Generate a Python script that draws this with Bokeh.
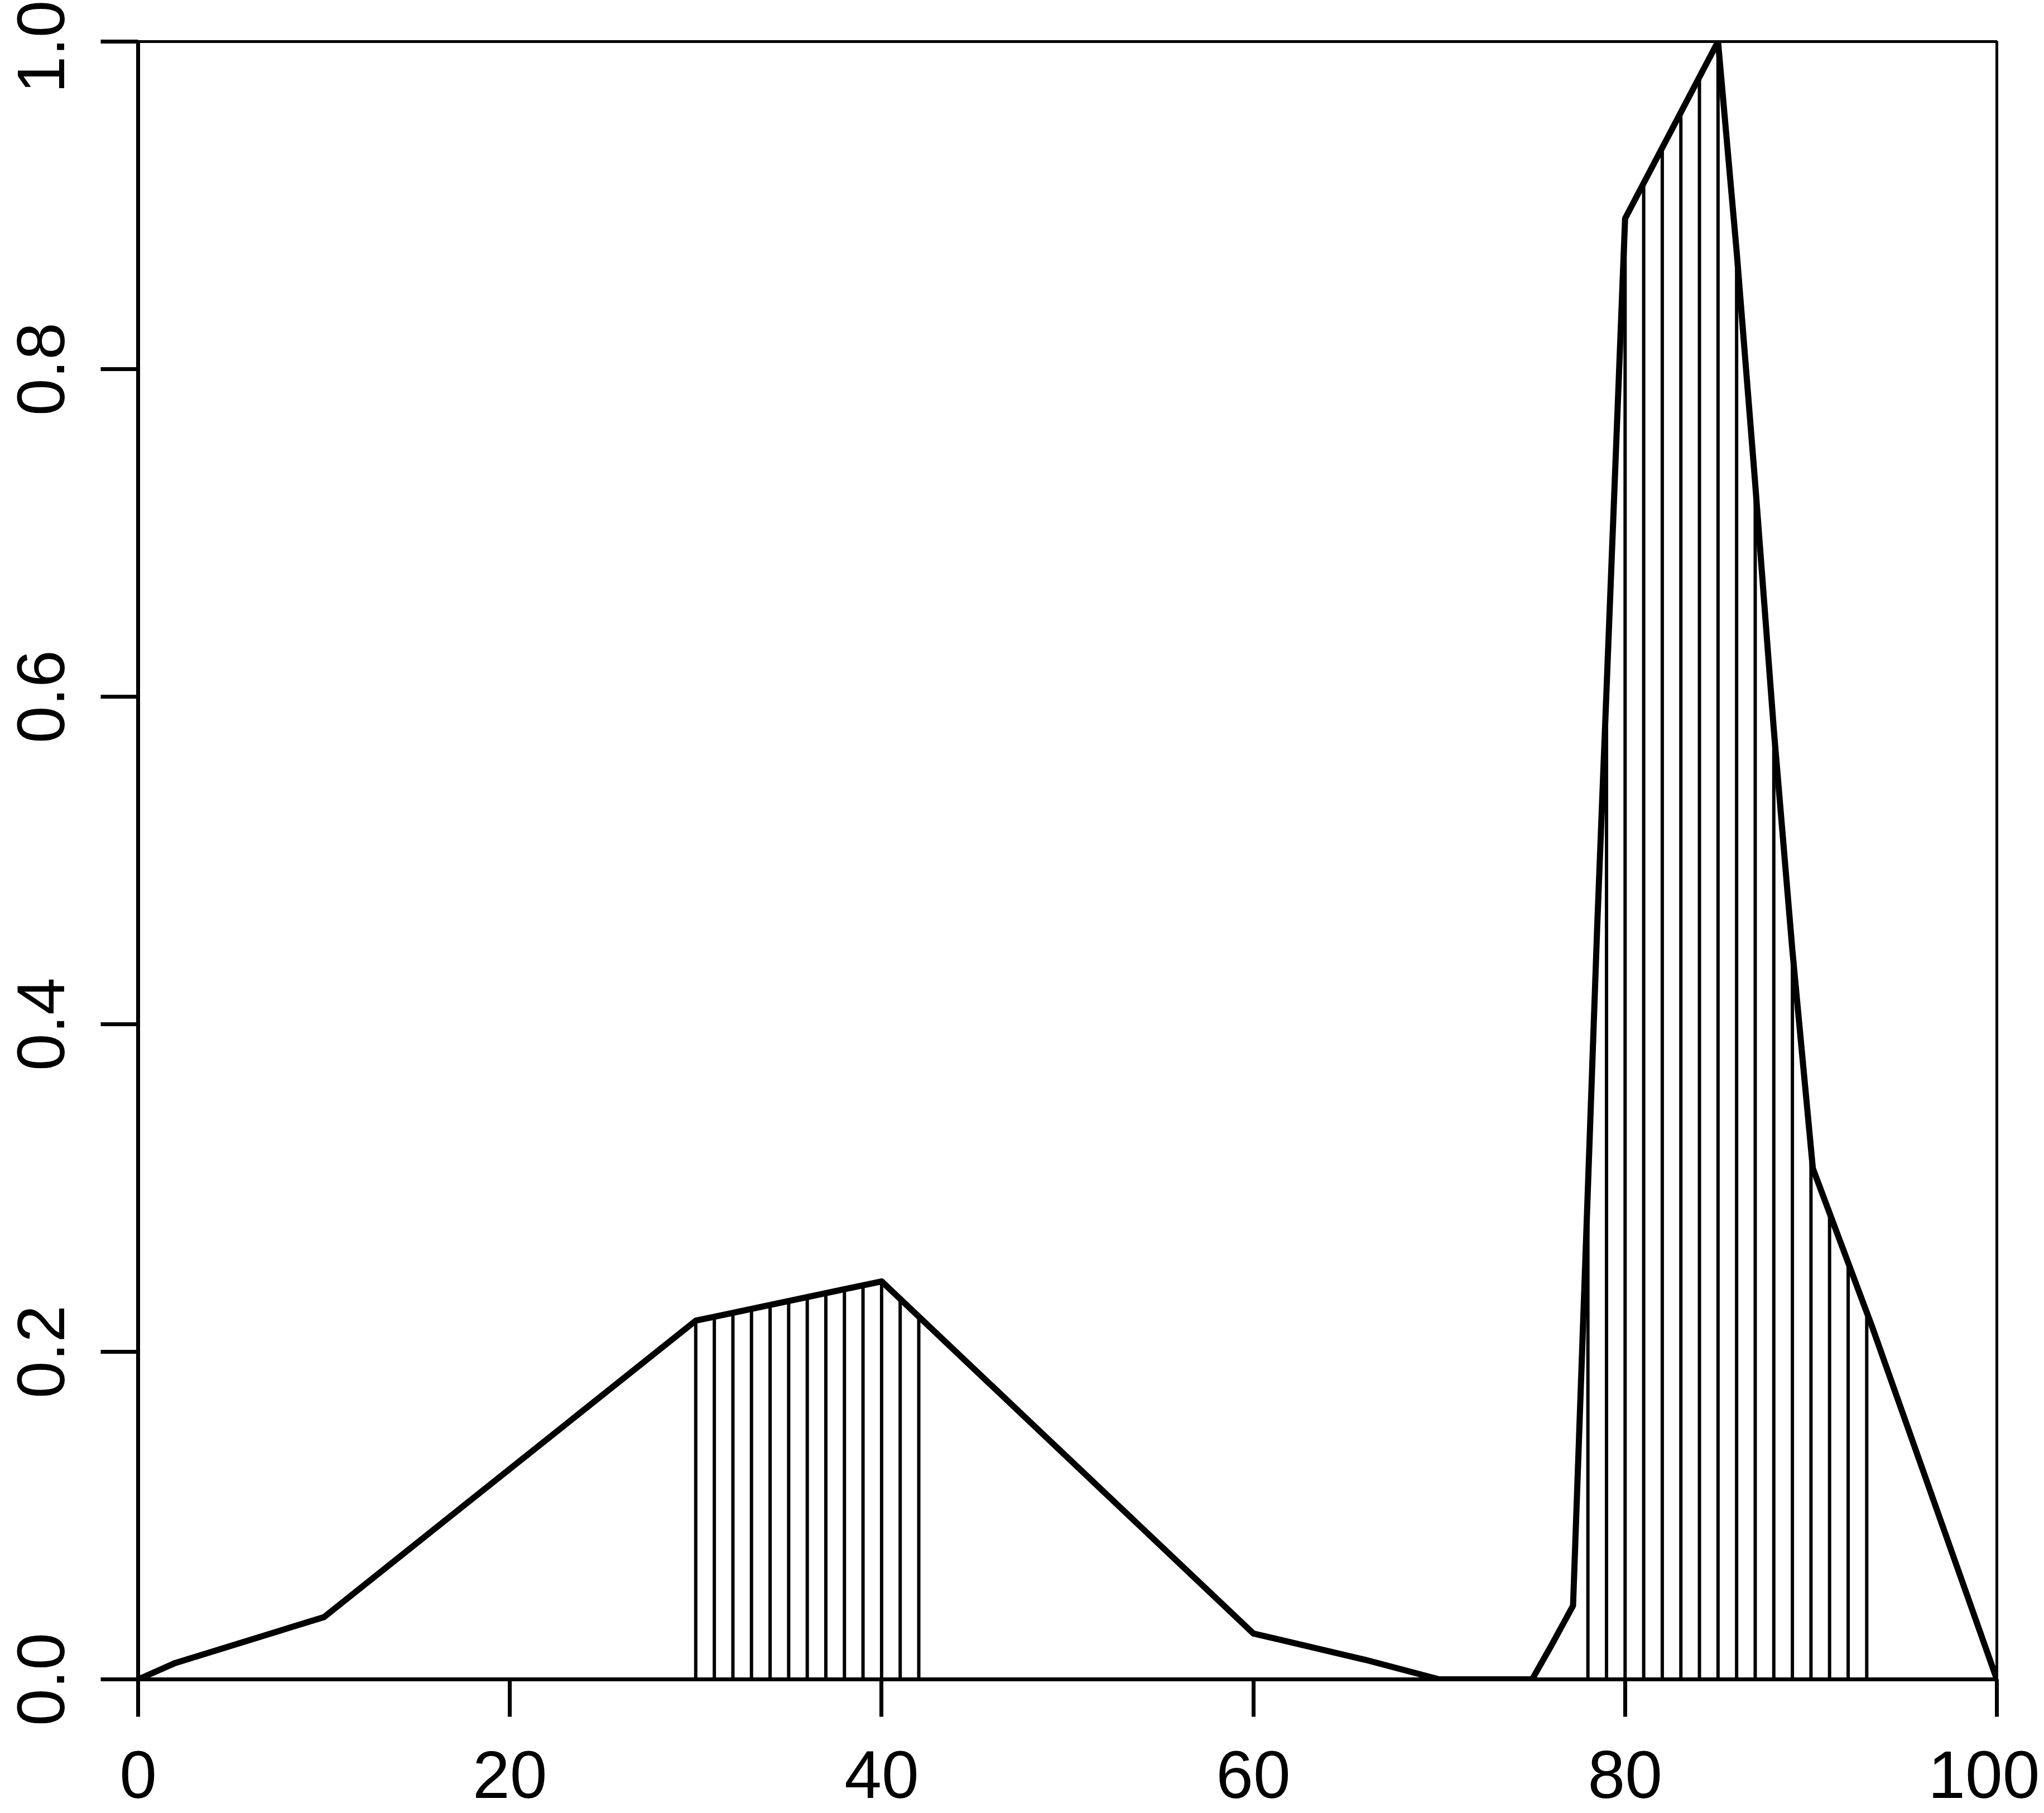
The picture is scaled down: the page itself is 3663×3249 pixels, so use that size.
import numpy as np
from bokeh.plotting import figure
from bokeh.models import Range1d, FixedTicker
from bokeh.embed import file_html
from bokeh.resources import INLINE

# ---- data ----
curve_x = [0, 2, 10, 30, 40, 60, 66, 70, 75, 76, 77.2, 78.5, 80, 85, 86, 87, 88, 89, 90.1, 93.3, 100]
curve_y = [0.0, 0.010, 0.038, 0.219, 0.243, 0.028, 0.012, 0.0, 0.0, 0.020, 0.045, 0.46, 0.892,
           1.0, 0.872, 0.730, 0.580, 0.445, 0.312, 0.215, 0.0]

left_bars_x = [30, 31, 32, 33, 34, 35, 36, 37, 38, 39, 40, 41, 42]
right_bars_x = [78, 79, 80, 81, 82, 83, 84, 85, 86, 87, 88, 89, 90, 91, 92, 93]

x_ticks = [0, 20, 40, 60, 80, 100]
y_ticks = [0.0, 0.2, 0.4, 0.6, 0.8, 1.0]
y_tick_labels = ["0.0", "0.2", "0.4", "0.6", "0.8", "1.0"]

# ---- layout ----
W, H = 3655, 3249
FRAME_W, FRAME_H = 3331, 2935
BL, BT = 247, 74
BR = W - BL - FRAME_W
BB = H - BT - FRAME_H

p = figure(width=W, height=H, x_range=Range1d(0, 100), y_range=Range1d(0, 1),
           output_backend="svg", toolbar_location=None, title=None,
           min_border_left=BL, min_border_right=BR, min_border_top=BT, min_border_bottom=BB,
           background_fill_color="white", border_fill_color="white")

p.grid.visible = False
p.outline_line_color = "black"
p.outline_line_width = 5

FONT = "Liberation Sans"
for ax in (p.xaxis[0], p.yaxis[0]):
    ax.axis_line_color = "black"
    ax.axis_line_width = 7
    ax.major_tick_line_color = "black"
    ax.major_tick_line_width = 7
    ax.major_tick_out = 67
    ax.major_tick_in = 0
    ax.minor_tick_line_color = None
    ax.major_label_text_font = FONT
    ax.major_label_text_font_size = "120px"
    ax.major_label_text_color = "black"

p.xaxis[0].ticker = FixedTicker(ticks=x_ticks)
p.xaxis[0].major_label_standoff = 62
p.yaxis[0].ticker = FixedTicker(ticks=y_ticks)
p.yaxis[0].major_label_overrides = {t: l for t, l in zip(y_ticks, y_tick_labels)}
p.yaxis[0].major_label_orientation = "vertical"
p.yaxis[0].major_label_standoff = 66

# vertical lines from the axis up to the curve
bars_x = left_bars_x + right_bars_x
bars_top = list(np.interp(bars_x, curve_x, curve_y))
p.segment(x0=bars_x, y0=[0] * len(bars_x), x1=bars_x, y1=bars_top,
          line_color="black", line_width=6)

# the curve
p.line(curve_x, curve_y, line_color="black", line_width=11, line_join="round")

open("out.html", "w").write(file_html(p, INLINE))
